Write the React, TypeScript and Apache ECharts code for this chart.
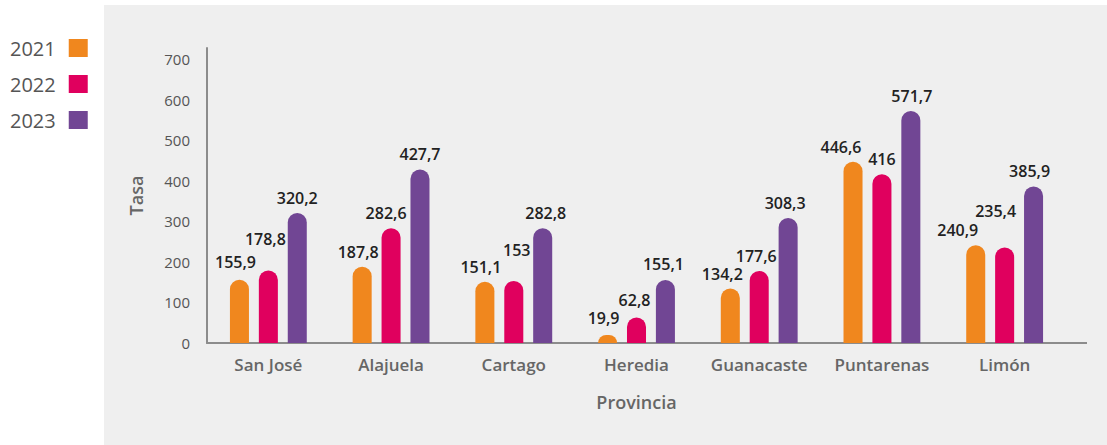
import React, { useEffect, useRef } from "react";
import * as echarts from "echarts";

const categories = ["San José", "Alajuela", "Cartago", "Heredia", "Guanacaste", "Puntarenas", "Limón"];
const seriesNames = ["2021", "2022", "2023"];
const values2021 = [155.9, 187.8, 151.1, 19.9, 134.2, 446.6, 240.9];
const values2022 = [178.8, 282.6, 153, 62.8, 177.6, 416, 235.4];
const values2023 = [320.2, 427.7, 282.8, 155.1, 308.3, 571.7, 385.9];
const yTicks = [0, 100, 200, 300, 400, 500, 600, 700];

// label nudges (style only) to mirror the reference's hand-placed labels
const offsets2021: [number, number][] = [[-4, -3], [-4, 0], [-4, 0], [-4, -2], [-8, 0], [-12, 0], [-18, 0]];
const offsets2022: [number, number][] = [[-3, -16], [-5, 0], [3, -16], [-2, -3], [-3, 0], [0, 0], [-9, -21]];
const offsets2023: [number, number][] = [[0, 0], [0, 0], [3, 0], [-2, -1], [-3, 0], [1, 0], [-4, 0]];

const colors = ["#F0871E", "#E0005E", "#714694"];
const FONT = "'Open Sans', Lato, sans-serif";

const fmt = (v: number) => String(v).replace(".", ",");

export default function App() {
  const ref = useRef<HTMLDivElement>(null);
  useEffect(() => {
    document.body.style.margin = "0";
    if (!ref.current) return;
    const chart = echarts.init(ref.current, undefined, { renderer: "svg" });
    const mk = (vals: number[], offs: [number, number][]) =>
      vals.map((v, i) => ({ value: v, label: { offset: offs[i] } }));
    const allVals = [values2021, values2022, values2023];
    const allOffs = [offsets2021, offsets2022, offsets2023];
    chart.setOption({
      animation: false,
      textStyle: { fontFamily: FONT },
      graphic: [
        {
          type: "rect",
          z: -10,
          silent: true,
          shape: { x: 104, y: 5, width: 1003, height: 440 },
          style: { fill: "#efefef" },
        },
        {
          type: "line",
          z: 10,
          silent: true,
          shape: { x1: 1065, y1: 343, x2: 1087, y2: 343 },
          style: { stroke: "#8c8c8c", lineWidth: 2 },
        },
      ],
      legend: {
        orient: "vertical",
        left: 5,
        top: 33,
        align: "right",
        itemWidth: 19,
        itemHeight: 18,
        itemGap: 16,
        icon: "rect",
        textStyle: { fontSize: 20, color: "#555", fontFamily: FONT, padding: [0, 8, 0, 0] },
        data: seriesNames,
      },
      grid: { left: 207, right: 41, top: 48, bottom: 102, containLabel: false },
      xAxis: {
        type: "category",
        data: categories,
        axisLine: { show: true, lineStyle: { color: "#8c8c8c", width: 2 } },
        axisTick: { show: false },
        axisLabel: { interval: 0, fontSize: 17, fontWeight: 600, color: "#666", margin: 13, fontFamily: FONT },
        name: "Provincia",
        nameLocation: "middle",
        nameGap: 50,
        nameTextStyle: { fontSize: 18, fontWeight: 600, color: "#666", fontFamily: FONT },
      },
      yAxis: {
        type: "value",
        min: yTicks[0],
        max: 727,
        interval: yTicks[1] - yTicks[0],
        splitLine: { show: false },
        axisLine: { show: true, lineStyle: { color: "#8c8c8c", width: 2 } },
        axisTick: { show: false },
        axisLabel: { fontSize: 15, color: "#555", margin: 17, showMaxLabel: false, fontFamily: FONT },
        name: "Tasa",
        nameLocation: "middle",
        nameGap: 62,
        nameTextStyle: { fontSize: 18, fontWeight: 600, color: "#666", fontFamily: FONT },
      },
      series: seriesNames.map((name, si) => ({
        name,
        type: "bar",
        data: mk(allVals[si], allOffs[si]),
        barWidth: "15.5%",
        barGap: "52%",
        itemStyle: { color: colors[si], borderRadius: [10, 10, 0, 0] },
        label: {
          show: true,
          position: "top",
          distance: 7,
          fontSize: 16,
          fontWeight: 600,
          color: "#222",
          fontFamily: FONT,
          formatter: (p: any) => fmt(p.value),
        },
      })),
    });
    return () => chart.dispose();
  }, []);
  return <div ref={ref} style={{ width: 1107, height: 445 }} />;
}
